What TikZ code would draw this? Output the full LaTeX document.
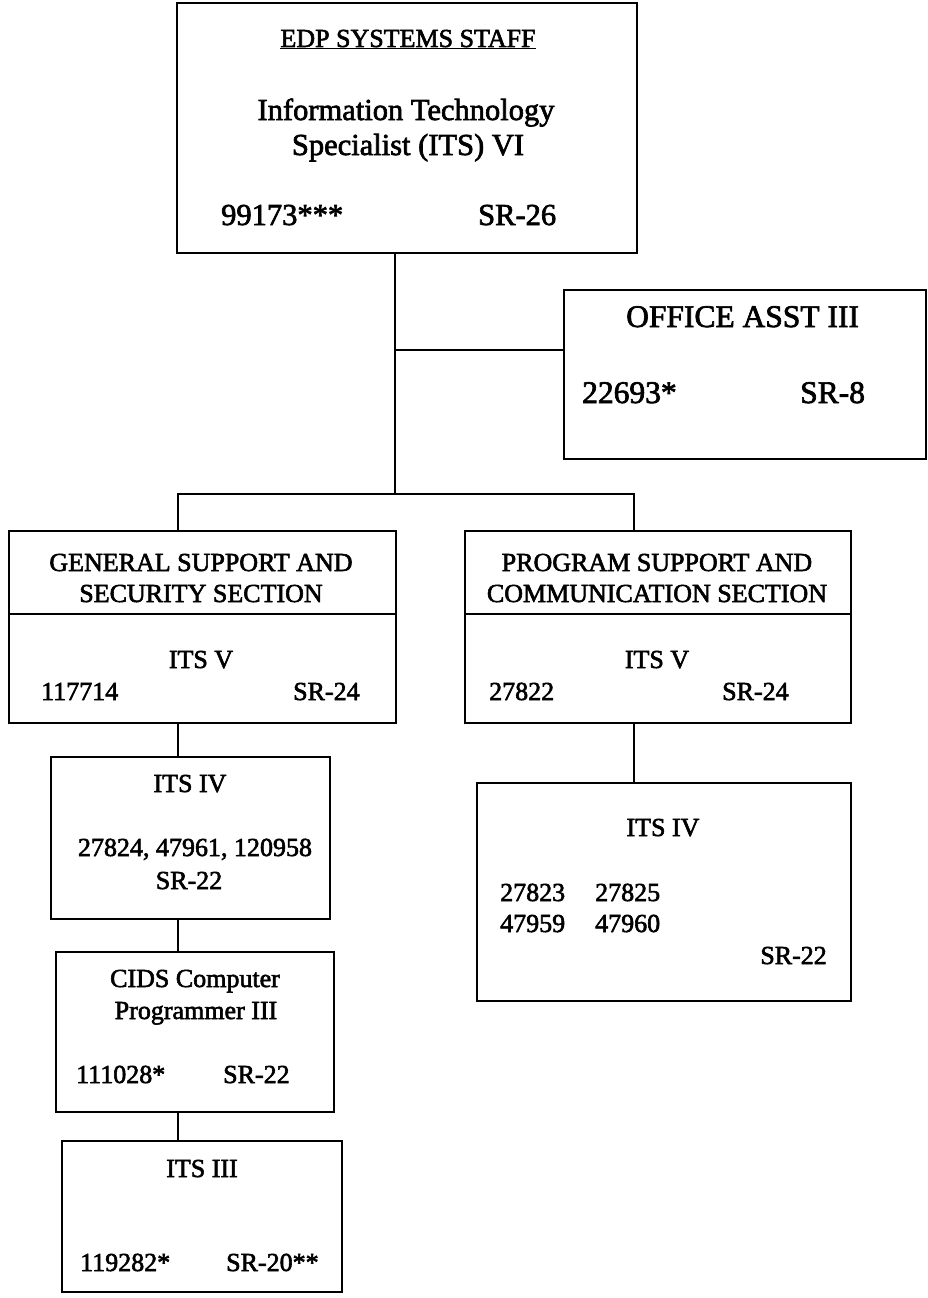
\documentclass[tikz,border=0pt]{standalone}
\usepackage{fontspec}
\setmainfont{Liberation Serif}[BoldFont={Liberation Serif}, BoldFeatures={FakeBold=2.2}]
\begin{document}
\begin{tikzpicture}[x=1pt,y=-1pt,
  box/.style={draw, line width=2.4pt, rectangle, inner sep=0pt},
  conn/.style={line width=1.3pt},
  txt/.style={inner sep=0pt, font=\fontsize{26}{30}\selectfont\bfseries},
  big/.style={inner sep=0pt, font=\fontsize{30.5}{34}\selectfont\bfseries},
  off/.style={inner sep=0pt, font=\fontsize{31.5}{36}\selectfont\bfseries},
  lt/.style={anchor=base west},
  ct/.style={anchor=base},
  rt/.style={anchor=base east}]
\useasboundingbox (0,0) rectangle (928,1298);

% boxes
\node[box, minimum width=460pt, minimum height=250pt] (top) at (407,128) {};
\node[box, minimum width=362pt, minimum height=169pt] (office) at (745,374.5) {};
\node[box, minimum width=387pt, minimum height=192pt] (lsec) at (202.5,627) {};
\node[box, minimum width=386pt, minimum height=192pt] (rsec) at (658,627) {};
\node[box, minimum width=279pt, minimum height=162pt] (its4l) at (190.5,838) {};
\node[box, minimum width=374pt, minimum height=218pt] (its4r) at (664,892) {};
\node[box, minimum width=278pt, minimum height=160pt] (cids) at (195,1032) {};
\node[box, minimum width=280pt, minimum height=151pt] (its3) at (202,1216.5) {};

% dividers
\coordinate (div) at (0,614);
\draw[line width=2.4pt] (lsec.west |- div) -- (lsec.east |- div);
\draw[line width=2.4pt] (rsec.west |- div) -- (rsec.east |- div);

% connectors
\coordinate (j1) at (395,350);
\coordinate (j2) at (395,494);
\coordinate (bl) at (178,494);
\coordinate (br) at (634,494);
\draw[conn] (top.south -| j1) -- (j2);
\draw[conn] (j1) -- (office.west |- j1);
\draw[conn] (lsec.north -| bl) -- (bl) -- (br) -- (rsec.north -| br);
\draw[conn] (lsec.south -| bl) -- (its4l.north -| bl);
\draw[conn] (rsec.south -| br) -- (its4r.north -| br);
\draw[conn] (its4l.south -| bl) -- (cids.north -| bl);
\draw[conn] (cids.south -| bl) -- (its3.north -| bl);

% top box text
\node[txt, ct] (t1) at (408,47) {\underline{EDP SYSTEMS STAFF}};
\node[big, ct] (t2) at (406,120) {Information Technology};
\node[big, ct] (t3) at (408,155) {Specialist (ITS) VI};
\node[big, lt] (t4) at (221,225) {99173***};
\node[big, lt] (t5) at (478,225) {SR-26};

% office
\node[off, lt] (o1) at (626,327) {OFFICE ASST III};
\node[off, lt] (o2) at (582,403) {22693*};
\node[off, lt] (o3) at (800,403) {SR-8};

% left section
\node[txt, ct] (l1) at (201,571) {GENERAL SUPPORT AND};
\node[txt, ct] (l2) at (201,602) {SECURITY SECTION};
\node[txt, ct] (l3) at (201,668) {ITS V};
\node[txt, lt] (l4) at (41,700) {117714};
\node[txt, lt] (l5) at (293,700) {SR-24};

% right section
\node[txt, ct] (r1) at (657,571) {PROGRAM SUPPORT AND};
\node[txt, ct] (r2) at (657,602) {COMMUNICATION SECTION};
\node[txt, ct] (r3) at (657,668) {ITS V};
\node[txt, lt] (r4) at (489,700) {27822};
\node[txt, lt] (r5) at (722,700) {SR-24};

% ITS IV left
\node[txt, ct] (a1) at (190,792) {ITS IV};
\node[txt, ct] (a2) at (195,856) {27824, 47961, 120958};
\node[txt, ct] (a3) at (189,889) {SR-22};

% ITS IV right
\node[txt, ct] (b1) at (663,836) {ITS IV};
\node[txt, lt] (b2) at (500,901) {27823};
\node[txt, lt] (b3) at (595,901) {27825};
\node[txt, lt] (b4) at (500,932) {47959};
\node[txt, lt] (b5) at (595,932) {47960};
\node[txt, rt] (b6) at (827,964) {SR-22};

% CIDS
\node[txt, ct] (c1) at (195,987) {CIDS Computer};
\node[txt, ct] (c2) at (196,1019) {Programmer III};
\node[txt, lt] (c3) at (76,1083) {111028*};
\node[txt, lt] (c4) at (223,1083) {SR-22};

% ITS III
\node[txt, ct] (d1) at (202,1177) {ITS III};
\node[txt, lt] (d2) at (80,1271) {119282*};
\node[txt, lt] (d3) at (226,1271) {SR-20**};
\end{tikzpicture}
\end{document}
